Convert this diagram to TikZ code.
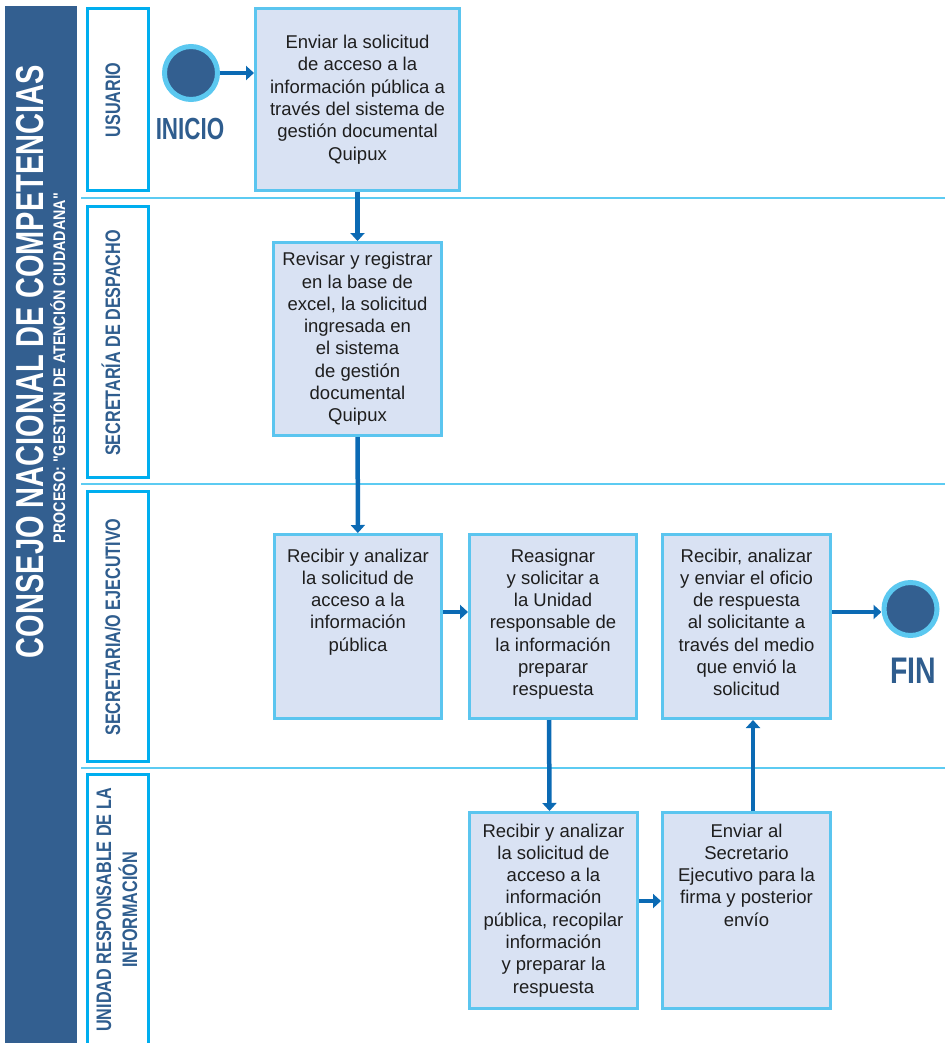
\documentclass[tikz,border=0pt]{standalone}
\usepackage{fontspec}
\setmainfont{Liberation Sans}
\newfontfamily\bandfont[Ligatures=TeXOff]{Liberation Sans}
\usepackage{graphicx}
\usetikzlibrary{arrows.meta}

\definecolor{bandblue}{HTML}{335F90}
\definecolor{labelblue}{HTML}{2F5D8E}
\definecolor{laneline}{HTML}{00AEEF}
\definecolor{divline}{HTML}{5CCBF2}
\definecolor{procfill}{HTML}{D9E2F3}
\definecolor{procline}{HTML}{5BC5EF}
\definecolor{ringblue}{HTML}{5BC8F0}
\definecolor{arrowblue}{HTML}{0B6AB4}
\definecolor{textblack}{HTML}{1E1E1E}

\newcommand{\cond}[1]{\scalebox{0.77}[1]{#1}}
\newcommand{\procbody}[4]{\parbox[c][#2][#3]{#1}{\centering #4}}

\begin{document}
\begin{tikzpicture}[x=1pt, y=-1pt,
    proc/.style={draw=procline, fill=procfill, line width=3pt, inner sep=0pt, text=textblack, font=\fontsize{18.5}{22.3}\selectfont},
    lane/.style={draw=laneline, line width=3pt},
    lanetext/.style={rotate=90, anchor=base, text=labelblue, font=\fontsize{21}{26}\selectfont\bfseries},
    divider/.style={draw=divline, line width=1.5pt},
    flow/.style={draw=arrowblue, line width=4.5pt, -{Triangle[width=14pt,length=8pt]}},
    terminal/.style={circle, draw=ringblue, fill=bandblue, line width=5pt, minimum size=53pt, inner sep=0pt}]
    \useasboundingbox (0,0) rectangle (945,1043);

    % band
    \fill[bandblue] (5,6) rectangle (77,1050);
    \node[rotate=90, anchor=base, text=white, font=\fontsize{39}{39}\selectfont\bfseries] (title) at (43,361.5)
        {\resizebox{593pt}{\height}{CONSEJO NACIONAL DE COMPETENCIAS}};
    \node[rotate=90, anchor=base, text=white, font=\bandfont\fontsize{16.8}{17}\selectfont\bfseries] (subtitle) at (65,368)
        {\resizebox{350pt}{\height}{PROCESO: "GESTIÓN DE ATENCIÓN CIUDADANA"}};

    % lanes
    \draw[lane] (87.5,8.5) rectangle (148.5,190.5);
    \draw[lane] (87.5,206.5) rectangle (148.5,477.5);
    \draw[lane] (87.5,491.5) rectangle (148.5,761.5);
    \draw[lane] (87.5,774.5) rectangle (148.5,1060);
    \draw[divider] (81,198) -- (945,198);
    \draw[divider] (81,484) -- (945,484);
    \draw[divider] (81,768) -- (945,768);

    \node[lanetext] (usuario) at (120,100) {\cond{USUARIO}};
    \node[lanetext] (despacho) at (120,343) {\cond{SECRETARÍA DE DESPACHO}};
    \node[lanetext] (ejecutivo) at (120,627) {\cond{SECRETARIA/O EJECUTIVO}};
    \node[lanetext, anchor=center, align=center] (unidad) at (117,910)
        {\cond{UNIDAD RESPONSABLE DE LA}\\\cond{INFORMACIÓN}};

    % start and end
    \node[terminal] (start) at (191,73) {};
    \node[anchor=base, text=labelblue, font=\fontsize{30.5}{31}\selectfont\bfseries] (inicio) at (190,140)
        {\scalebox{0.735}[1]{INICIO}};
    \node[terminal] (finish) at (910.5,609) {};
    \node[anchor=base, text=labelblue, font=\fontsize{37}{37}\selectfont\bfseries] (fin) at (913,683)
        {\scalebox{0.77}[1]{FIN}};

    % steps
    \node[proc] (enviar) at (357.5,99.5) {\procbody{204pt}{182pt}{c}{Enviar la solicitud\\ de acceso a la\\ información pública a\\ través del sistema de\\ gestión documental\\ Quipux}};
    \node[proc] (revisar) at (357.5,339) {\procbody{168pt}{193pt}{c}{Revisar y registrar\\ en la base de\\ excel, la solicitud\\ ingresada en\\ el sistema\\ de gestión\\ documental\\ Quipux}};
    \node[proc] (recibir) at (358,626.5) {\procbody{167pt}{184pt}{t}{\rule{0pt}{27.5pt}Recibir y analizar\\ la solicitud de\\ acceso a la\\ información\\ pública}};
    \node[proc] (reasignar) at (553,626.5) {\procbody{167pt}{184pt}{t}{\rule{0pt}{27.5pt}Reasignar\\ y solicitar a\\ la Unidad\\ responsable de\\ la información\\ preparar\\ respuesta}};
    \node[proc] (responder) at (746.5,626.5) {\procbody{168pt}{184pt}{t}{\rule{0pt}{27.5pt}Recibir, analizar\\ y enviar el oficio\\ de respuesta\\ al solicitante a\\ través del medio\\ que envió la\\ solicitud}};
    \node[proc] (recopilar) at (553.5,910.5) {\procbody{168pt}{196pt}{t}{\rule{0pt}{24.5pt}Recibir y analizar\\ la solicitud de\\ acceso a la\\ información\\ pública, recopilar\\ información\\ y preparar la\\ respuesta}};
    \node[proc] (firmar) at (746.5,910.5) {\procbody{168pt}{196pt}{t}{\rule{0pt}{24.5pt}Enviar al\\ Secretario\\ Ejecutivo para la\\ firma y posterior\\ envío}};

    % flow
    \draw[flow] (start) -- (start -| enviar.west);
    \draw[flow] (enviar) -- (revisar);
    \draw[flow] (revisar) -- (recibir);
    \draw[flow] ([yshift=14.5pt]recibir.east) -- ([yshift=14.5pt]reasignar.west);
    \draw[flow] ([xshift=-4pt]reasignar.south) -- ([xshift=-4pt]recopilar.north);
    \draw[flow] ([yshift=9.5pt]recopilar.east) -- ([yshift=9.5pt]firmar.west);
    \draw[flow] ([xshift=6.5pt]firmar.north) -- ([xshift=6.5pt]responder.south);
    \draw[flow] ([yshift=14.5pt]responder.east) -- ([yshift=14.5pt]responder.east -| finish.west);
\end{tikzpicture}
\end{document}
